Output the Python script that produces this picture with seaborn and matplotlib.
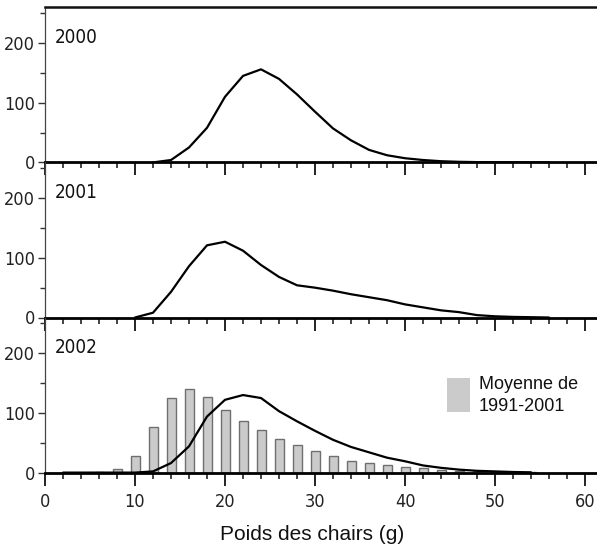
import matplotlib
matplotlib.use("Agg")
import matplotlib.pyplot as plt
from matplotlib.patches import Rectangle
from matplotlib.ticker import MultipleLocator
from matplotlib import font_manager
import seaborn as sns

# ---- data ----
years = ["2000", "2001", "2002"]

x_2000 = [12, 14, 16, 18, 20, 22, 24, 26, 28, 30, 32, 34, 36, 38, 40, 42, 44, 46, 48, 50, 52, 54, 56]
y_2000 = [0, 4, 25, 58, 110, 145, 156, 140, 114, 85, 57, 37, 21, 12, 7, 4, 2, 1, 0.5, 0.3, 0.2, 0, 0]

x_2001 = [10, 12, 14, 16, 18, 20, 22, 24, 26, 28, 30, 32, 34, 36, 38, 40, 42, 44, 46, 48, 50, 52, 54, 56]
y_2001 = [0, 8, 43, 86, 121, 127, 112, 88, 68, 54, 50, 45, 39, 34, 29, 22, 17, 12, 9, 4, 2, 1, 0.5, 0]

x_2002 = [2, 4, 6, 8, 10, 12, 14, 16, 18, 20, 22, 24, 26, 28, 30, 32, 34, 36, 38, 40, 42, 44, 46, 48, 50, 52, 54]
y_2002 = [0, 0, 0, 0, 0, 2, 16, 44, 94, 122, 130, 125, 103, 86, 70, 55, 43, 34, 25, 19, 12, 8, 5, 3, 2, 1, 0.5]

bar_x = [2, 4, 6, 8, 10, 12, 14, 16, 18, 20, 22, 24, 26, 28, 30, 32, 34, 36, 38, 40, 42, 44, 46, 48, 50, 52, 54]
bar_mean = [0, 0, 1, 6, 27, 76, 125, 140, 127, 105, 86, 71, 56, 46, 36, 27, 20, 16, 13, 10, 7, 4.5, 3.4, 2, 1.5, 1, 0.5]

x_ticks = [0, 10, 20, 30, 40, 50, 60]
y_ticks = [0, 100, 200]
xlabel = "Poids des chairs (g)"
legend_lines = ["Moyenne de", "1991-2001"]

# ---- style ----
sns.set_theme(style="ticks")
regular = ["Liberation Sans", "DejaVu Sans"]
plt.rcParams["font.family"] = ["DejaVu Sans"]

# condensed font for tick labels / year labels
cond_files = [f.fname for f in font_manager.fontManager.ttflist
              if f.name == "DejaVu Sans" and "condensed" in str(f.stretch).lower()
              and f.weight in (400, "normal") and f.style == "normal"]
if cond_files:
    tick_fp = font_manager.FontProperties(fname=cond_files[0])
else:
    tick_fp = font_manager.FontProperties(family="DejaVu Sans", stretch="condensed")

W, H = 597, 548
fig = plt.figure(figsize=(W / 100, H / 100), dpi=100)

left_px, right_px = 45, 597
top_px = 7.3
panel_h = 155.1
series = [(x_2000, y_2000), (x_2001, y_2001), (x_2002, y_2002)]
axes = []
for i in range(3):
    top = top_px + i * panel_h
    bottom = top + panel_h
    ax = fig.add_axes([left_px / W, 1 - bottom / H, (right_px - left_px) / W, panel_h / H])
    ax.set_facecolor("none")
    axes.append(ax)

for i, ax in enumerate(axes):
    xs, ys = series[i]
    if i == 2:
        sns.histplot(x=bar_x, weights=bar_mean, discrete=True, shrink=1.0, ax=ax,
                     color="#cbcbcb", edgecolor="#6f6f6f", linewidth=1.0, alpha=1.0, zorder=2)
    sns.lineplot(x=xs, y=ys, ax=ax, color="black", linewidth=1.6, zorder=3)
    ax.set_xlim(0, (right_px - left_px) / 9.0)
    ax.set_ylim(0, 260)
    ax.set_xlabel("")
    ax.set_ylabel("")
    ax.set_xticks(x_ticks)
    ax.xaxis.set_minor_locator(MultipleLocator(2))
    ax.set_yticks(y_ticks)
    ax.set_yticklabels([str(v) for v in y_ticks])
    ax.yaxis.set_minor_locator(MultipleLocator(50))
    ax.spines["right"].set_visible(False)
    ax.spines["top"].set_visible(i == 0)
    ax.spines["top"].set_linewidth(1.8)
    ax.spines["top"].set_color("#111111")
    ax.spines["left"].set_linewidth(0.9)
    ax.spines["left"].set_color("#444444")
    ax.spines["bottom"].set_linewidth(2.0)
    ax.spines["bottom"].set_color("black")
    ax.spines["bottom"].set_zorder(4)
    ax.tick_params(axis="x", which="major", direction="out", length=9, width=1.3,
                   color="#111111", pad=6)
    ax.tick_params(axis="x", which="minor", direction="out", length=4.5, width=1.1,
                   color="#111111")
    ax.tick_params(axis="y", which="major", direction="out", length=5, width=1.0,
                   color="#333333", pad=2)
    ax.tick_params(axis="y", which="minor", direction="out", length=3.5, width=1.0,
                   color="#333333")
    if i < 2:
        ax.set_xticklabels([])
    else:
        ax.set_xticklabels([str(v) for v in x_ticks])
    for t in ax.get_xticklabels() + ax.get_yticklabels():
        t.set_fontproperties(tick_fp)
        t.set_fontsize(13)
        t.set_color("#222222")
    for line in ax.get_xticklines() + ax.xaxis.get_minorticklines():
        line.set_clip_on(False)
    yt = ax.text(0.018, 0.77, years[i], transform=ax.transAxes,
                 va="baseline", ha="left", color="#111111")
    yt.set_fontproperties(tick_fp)
    yt.set_fontsize(13.5)

ax3 = axes[2]
ax3.add_patch(Rectangle((0.728, 0.389), 0.042, 0.218, transform=ax3.transAxes,
                        facecolor="#cbcbcb", edgecolor="none", zorder=5))
ax3.text(0.786, 0.537, legend_lines[0], transform=ax3.transAxes, fontsize=13,
         family=regular, va="baseline", ha="left", color="#111111")
ax3.text(0.786, 0.396, legend_lines[1], transform=ax3.transAxes, fontsize=13,
         family=regular, va="baseline", ha="left", color="#111111")

fig.text(312 / W, 8 / H, xlabel, fontsize=15, family=regular, ha="center",
         va="baseline", color="#111111")

fig.savefig("out.png", dpi=100)
